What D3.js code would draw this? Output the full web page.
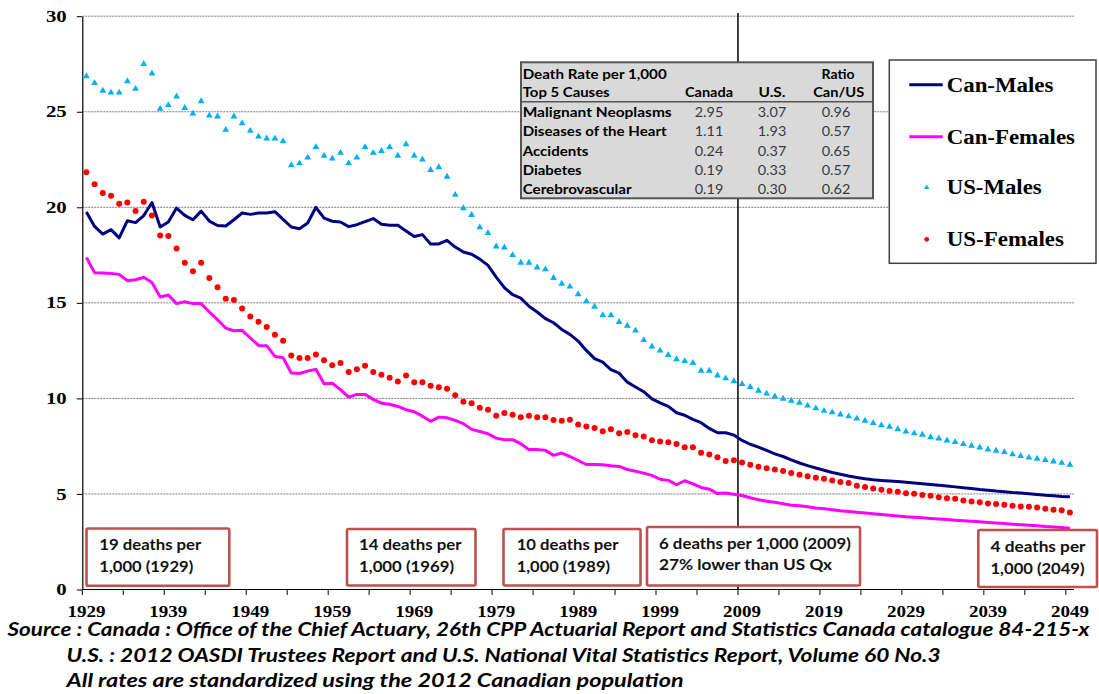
<!DOCTYPE html>
<html><head><meta charset="utf-8">
<script src="https://cdn.jsdelivr.net/npm/d3@7"></script>
<style>body{margin:0;background:#fff}svg{display:block}</style>
</head><body>
<svg id="chart" width="1099" height="694"></svg>
<script>
// ---------------- DATA ----------------
const years = d3.range(1929, 2050);
const xTickLabels = ["1929","1939","1949","1959","1969","1979","1989","1999","2009","2019","2029","2039","2049"];
const yTicks = [0, 5, 10, 15, 20, 25, 30];

const canMales = [
19.75,19.0,18.6,18.83,18.4,19.3,19.2,19.57,20.25,18.97,
19.23,19.96,19.58,19.35,19.8,19.28,19.05,19.02,19.35,19.7,
19.63,19.7,19.7,19.77,19.37,18.97,18.88,19.18,20.0,19.43,
19.27,19.23,18.99,19.09,19.25,19.41,19.11,19.06,19.06,18.76,
18.47,18.57,18.08,18.08,18.27,17.92,17.66,17.54,17.29,16.96,
16.35,15.8,15.43,15.25,14.82,14.52,14.17,13.96,13.61,13.35,
13.0,12.51,12.08,11.9,11.5,11.32,10.85,10.6,10.35,9.98,
9.77,9.58,9.25,9.12,8.9,8.73,8.43,8.2,8.2,8.08,
7.8,7.6,7.45,7.28,7.1,6.96,6.78,6.62,6.48,6.36,
6.24,6.12,6.03,5.94,5.86,5.79,5.74,5.71,5.68,5.65,
5.61,5.57,5.53,5.49,5.45,5.41,5.37,5.32,5.28,5.23,
5.19,5.15,5.12,5.08,5.05,5.01,4.97,4.93,4.9,4.87,
4.85];

const canFemales = [
17.37,16.58,16.56,16.53,16.49,16.16,16.21,16.34,16.07,15.31,
15.41,14.96,15.06,14.96,14.96,14.52,14.12,13.68,13.54,13.56,
13.16,12.77,12.76,12.2,12.13,11.33,11.3,11.43,11.52,10.77,
10.79,10.46,10.07,10.21,10.21,9.95,9.75,9.69,9.58,9.41,
9.3,9.07,8.8,9.02,8.99,8.85,8.68,8.38,8.27,8.15,
7.92,7.84,7.84,7.63,7.32,7.33,7.28,7.02,7.14,6.96,
6.75,6.54,6.54,6.53,6.48,6.44,6.28,6.19,6.09,5.97,
5.77,5.71,5.48,5.69,5.53,5.34,5.25,5.02,5.05,4.98,
4.92,4.8,4.7,4.62,4.57,4.49,4.41,4.38,4.33,4.27,
4.22,4.17,4.12,4.08,4.04,4.0,3.96,3.92,3.88,3.85,
3.81,3.78,3.75,3.72,3.69,3.66,3.63,3.6,3.57,3.54,
3.51,3.48,3.45,3.42,3.39,3.36,3.33,3.3,3.27,3.24,
3.2];

const usMales = [
26.86,26.5,26.1,26.0,26.0,26.6,26.2,27.5,27.0,25.15,
25.35,25.8,25.2,24.9,25.55,24.8,24.75,24.05,24.75,24.4,
24.0,23.7,23.6,23.6,23.45,22.2,22.3,22.6,23.15,22.7,
22.55,22.85,22.3,22.6,23.15,22.85,22.95,23.15,22.7,23.3,
22.7,22.5,21.95,22.1,21.6,20.65,19.95,19.6,18.95,18.65,
17.95,17.9,17.5,17.1,17.1,16.85,16.75,16.3,16.0,15.85,
15.45,15.08,14.8,14.35,14.35,14.0,13.8,13.55,13.05,12.72,
12.5,12.27,12.05,11.95,11.85,11.45,11.45,11.2,11.05,10.9,
10.75,10.6,10.4,10.25,10.1,9.98,9.88,9.77,9.62,9.48,
9.35,9.27,9.16,9.06,8.94,8.83,8.71,8.59,8.52,8.39,
8.26,8.17,8.1,7.97,7.9,7.8,7.71,7.61,7.52,7.43,
7.33,7.26,7.19,7.07,6.98,6.9,6.84,6.77,6.7,6.63,
6.53];

const usFemales = [
21.83,21.2,20.75,20.6,20.19,20.25,19.81,20.29,19.57,18.53,
18.5,17.85,17.1,16.65,17.1,16.3,15.81,15.22,15.15,14.71,
14.28,14.01,13.73,13.33,13.02,12.25,12.11,12.11,12.3,11.99,
11.73,11.85,11.38,11.53,11.71,11.38,11.24,11.08,10.89,11.2,
10.84,10.84,10.66,10.59,10.51,10.16,9.83,9.75,9.51,9.41,
9.09,9.23,9.15,9.02,9.09,9.02,9.02,8.87,8.83,8.88,
8.64,8.53,8.45,8.28,8.38,8.18,8.24,8.07,8.0,7.81,
7.75,7.7,7.62,7.45,7.45,7.15,7.07,6.92,6.73,6.77,
6.65,6.53,6.42,6.34,6.28,6.2,6.1,6.0,5.92,5.85,
5.8,5.71,5.62,5.57,5.43,5.36,5.29,5.22,5.15,5.11,
5.04,5.01,4.94,4.9,4.83,4.78,4.75,4.66,4.61,4.57,
4.5,4.48,4.43,4.38,4.34,4.33,4.29,4.22,4.17,4.15,
4.03];

const seriesNames = ["Can-Males", "Can-Females", "US-Males", "US-Females"];

const tableHeader1 = ["Death Rate per 1,000", "", "", "Ratio"];
const tableHeader2 = ["Top 5 Causes", "Canada", "U.S.", "Can/US"];
const causes = ["Malignant Neoplasms", "Diseases of the Heart", "Accidents", "Diabetes", "Cerebrovascular"];
const canadaRates = ["2.95", "1.11", "0.24", "0.19", "0.19"];
const usRates = ["3.07", "1.93", "0.37", "0.33", "0.30"];
const ratios = ["0.96", "0.57", "0.65", "0.57", "0.62"];

const notes = [
  ["19 deaths per", "1,000 (1929)"],
  ["14 deaths per", "1,000 (1969)"],
  ["10 deaths per", "1,000 (1989)"],
  ["6 deaths per 1,000 (2009)", "27% lower than US Qx"],
  ["4 deaths per", "1,000 (2049)"]
];
const sourceLines = [
  "Source : Canada : Office of the Chief Actuary, 26th CPP Actuarial Report and Statistics Canada catalogue 84-215-x",
  "U.S. : 2012 OASDI Trustees Report and U.S. National Vital Statistics Report, Volume 60 No.3",
  "All rates are standardized using the 2012 Canadian population"
];
const markerYear = 2009;

// ---------------- LAYOUT ----------------
const SERIF = "'Liberation Serif','Times New Roman',serif";
const SANS = "Lato,'Carlito',Calibri,sans-serif";
const colors = {canM: "#000080", canF: "#ff00ff", usM: "#00b0f0", usF: "#ff0000"};
const svg = d3.select("#chart");
const fit = (sel, w) => sel.attr("textLength", w).attr("lengthAdjust", "spacingAndGlyphs");

const x = d3.scaleBand().domain(years).range([82.3, 1074]).padding(0);
const bw = x.bandwidth();
const cx = yr => x(yr) + bw / 2;
const y = d3.scaleLinear().domain([0, 30]).range([589.5, 16.2]);

// gridlines
svg.append("g").selectAll("line").data(yTicks.filter(v => v > 0)).join("line")
  .attr("x1", 82.3).attr("x2", 1074)
  .attr("y1", d => y(d)).attr("y2", d => y(d))
  .attr("stroke", "#7a7a7a").attr("stroke-width", 1).attr("stroke-dasharray", "2,1");

// vertical marker line
svg.append("line")
  .attr("x1", x(markerYear)).attr("x2", x(markerYear))
  .attr("y1", 13).attr("y2", 589.5)
  .attr("stroke", "#000").attr("stroke-width", 1.5);

// y axis
const yAxis = svg.append("g").attr("transform", "translate(82.3,0)")
  .call(d3.axisLeft(y).tickValues(yTicks).tickSize(5.5).tickSizeOuter(0).tickPadding(16));
yAxis.select(".domain").attr("stroke", "#000").attr("stroke-width", 1.2);
yAxis.selectAll(".tick line").attr("stroke", "#000");
yAxis.selectAll(".tick text").remove();
svg.append("g").selectAll("text").data(yTicks).join("text")
  .attr("x", 66.7).attr("y", d => y(d) + 5.6)
  .attr("text-anchor", "end")
  .attr("font-family", SERIF).attr("font-weight", "bold").attr("font-size", 16.5)
  .attr("fill", "#000")
  .text(d => d)
  .each(function(d){ fit(d3.select(this), String(d).length * 10.4); });

// x axis
svg.append("line").attr("x1", 82.3).attr("x2", 1074).attr("y1", 589.5).attr("y2", 589.5)
  .attr("stroke", "#000").attr("stroke-width", 1.2);
const tickYears = years.filter(yr => (yr - 1929) % 5 === 0);
svg.append("g").selectAll("line").data(tickYears).join("line")
  .attr("x1", d => x(d)).attr("x2", d => x(d))
  .attr("y1", 589.5).attr("y2", 595)
  .attr("stroke", "#000").attr("stroke-width", 1);
svg.append("g").selectAll("text").data(xTickLabels).join("text")
  .attr("x", d => cx(+d)).attr("y", 616.5)
  .attr("text-anchor", "middle")
  .attr("font-family", SERIF).attr("font-weight", "bold").attr("font-size", 17.5)
  .attr("fill", "#000")
  .text(d => d)
  .each(function(){ fit(d3.select(this), 38); });

// series
const line = d3.line().x((d, i) => cx(years[i])).y(d => y(d));
svg.append("path").datum(canFemales).attr("d", line)
  .attr("fill", "none").attr("stroke", colors.canF).attr("stroke-width", 3).attr("stroke-linejoin", "round");
svg.append("path").datum(canMales).attr("d", line)
  .attr("fill", "none").attr("stroke", colors.canM).attr("stroke-width", 3).attr("stroke-linejoin", "round");
const tri = d3.symbol().type(d3.symbolTriangle).size(20);
svg.append("g").selectAll("path").data(usMales).join("path")
  .attr("d", tri)
  .attr("transform", (d, i) => `translate(${cx(years[i])},${y(d)})`)
  .attr("fill", colors.usM);
svg.append("g").selectAll("circle").data(usFemales).join("circle")
  .attr("cx", (d, i) => cx(years[i])).attr("cy", d => y(d)).attr("r", 3)
  .attr("fill", colors.usF);

// table
const tbl = svg.append("g");
tbl.append("rect").attr("x", 521).attr("y", 62.3).attr("width", 352).attr("height", 136)
  .attr("fill", "#d9d9d9").attr("stroke", "#555").attr("stroke-width", 2);
tbl.append("line").attr("x1", 521).attr("x2", 873).attr("y1", 101.7).attr("y2", 101.7)
  .attr("stroke", "#555").attr("stroke-width", 1.5);
const colX = [522.7, 709, 772, 836];
const hdrW1 = [144, 0, 0, 33];
const hdrW2 = [87, 48, 27, 51];
const bold = (g, txt, xx, yy, anchor, w) => {
  const t = g.append("text").attr("x", xx).attr("y", yy).attr("text-anchor", anchor)
    .attr("font-family", SANS).attr("font-weight", "bold").attr("font-size", 14).attr("fill", "#000").text(txt);
  if (w) fit(t, w);
  return t;
};
tableHeader1.forEach((t, i) => { if (t) bold(tbl, t, i === 0 ? colX[0] : colX[i] + 2, 79.3, i === 0 ? "start" : "middle", hdrW1[i]); });
tableHeader2.forEach((t, i) => { if (t) bold(tbl, t, i === 0 ? colX[0] : colX[i] + (i === 3 ? 2.7 : 0), 97.3, i === 0 ? "start" : "middle", hdrW2[i]); });
const causeW = [149, 144, 65.7, 59, 109];
const rowY = [117.3, 136.2, 155.6, 174.6, 193.8];
causes.forEach((c, i) => {
  bold(tbl, c, colX[0], rowY[i], "start", causeW[i]);
  [canadaRates[i], usRates[i], ratios[i]].forEach((v, j) => {
    tbl.append("text").attr("x", colX[j + 1]).attr("y", rowY[i]).attr("text-anchor", "middle")
      .attr("font-family", SANS).attr("font-size", 14).attr("fill", "#3a3a3a").text(v)
      .call(s => fit(s, 28.5));
  });
});

// legend
const lg = svg.append("g");
lg.append("rect").attr("x", 889.3).attr("y", 60).attr("width", 206.7).attr("height", 203.3)
  .attr("fill", "#fff").attr("stroke", "#404040").attr("stroke-width", 1.5);
const legY = [84.8, 136.7, 187.5, 239.3];
const legW = [106.7, 128.3, 95, 117.3];
lg.append("line").attr("x1", 909.3).attr("x2", 942.7).attr("y1", legY[0]).attr("y2", legY[0])
  .attr("stroke", colors.canM).attr("stroke-width", 3);
lg.append("line").attr("x1", 909.3).attr("x2", 942.7).attr("y1", legY[1]).attr("y2", legY[1])
  .attr("stroke", colors.canF).attr("stroke-width", 3);
lg.append("path").attr("d", d3.symbol().type(d3.symbolTriangle).size(12))
  .attr("transform", `translate(926.7,${legY[2]})`).attr("fill", colors.usM);
lg.append("circle").attr("cx", 926.7).attr("cy", legY[3]).attr("r", 2.4).attr("fill", colors.usF);
seriesNames.forEach((n, i) => {
  lg.append("text").attr("x", 946.7).attr("y", legY[i] + 6.8)
    .attr("font-family", SERIF).attr("font-weight", "bold").attr("font-size", 20)
    .attr("fill", "#000").text(n).call(s => fit(s, legW[i]));
});

// annotation boxes
const boxes = [
  {x: 86.5, y: 528.5, w: 142.8, h: 57.2, tx: 99.3, b: [550, 571.5], tw: [102, 94]},
  {x: 347, y: 529, w: 128.5, h: 56.5, tx: 359, b: [550, 571.5], tw: [102.5, 95]},
  {x: 503.5, y: 529, w: 137, h: 56.5, tx: 516.7, b: [550, 571.5], tw: [101.7, 93.3]},
  {x: 647, y: 527, w: 213, h: 58.5, tx: 659, b: [548.5, 570], tw: [192, 173]},
  {x: 978.3, y: 530, w: 118.7, h: 57, tx: 990.5, b: [552, 573.5], tw: [95, 94]}
];
const ann = svg.append("g");
notes.forEach((lines, i) => {
  const b = boxes[i];
  ann.append("rect").attr("x", b.x).attr("y", b.y).attr("width", b.w).attr("height", b.h)
    .attr("fill", "#fff").attr("stroke", "#c0504d").attr("stroke-width", 2.6).attr("rx", 1.5);
  lines.forEach((t, j) => {
    ann.append("text").attr("x", b.tx).attr("y", b.b[j])
      .attr("font-family", SANS).attr("font-weight", "bold").attr("font-size", 16)
      .attr("fill", "#111").text(t).call(s => fit(s, b.tw[j]));
  });
});

// source text
const srcX = [7.5, 66.6, 66.6];
const srcY = [635.5, 661.5, 687];
const srcW = [1082, 874, 617];
sourceLines.forEach((t, i) => {
  svg.append("text").attr("x", srcX[i]).attr("y", srcY[i])
    .attr("font-family", SANS).attr("font-weight", "bold").attr("font-style", "italic")
    .attr("font-size", 19).attr("fill", "#000").text(t).call(s => fit(s, srcW[i]));
});
</script>
</body></html>
